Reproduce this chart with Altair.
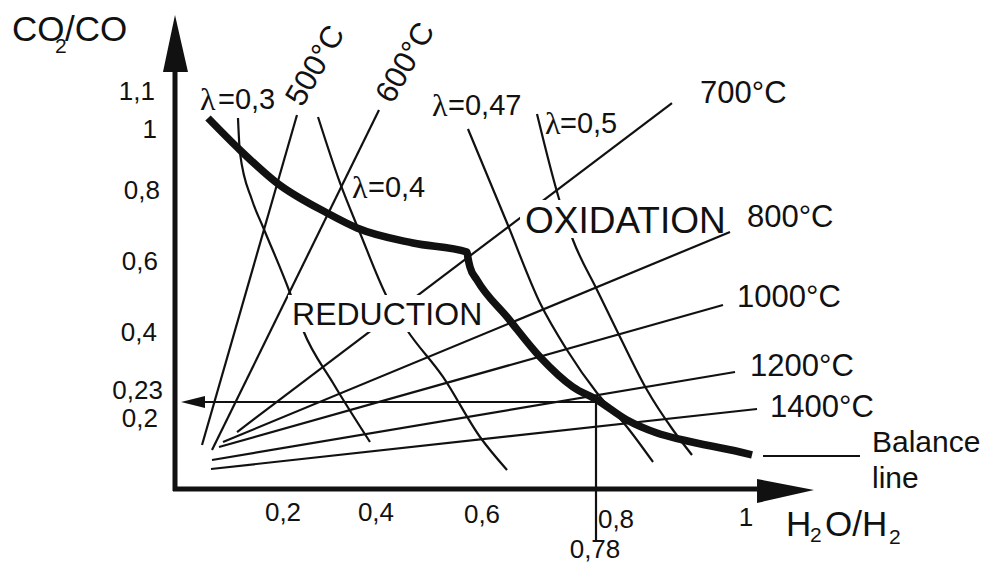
import altair as alt
import pandas as pd

FONT = "Liberation Sans"
SERIF = "Liberation Serif"
INK = "#111111"

# ---------------- layout (page geometry of the schematic) ----------------
W, H = 973, 554
PAGE = 8
ORIGIN_PX = (175, 488)      # where the two axes meet on the page
UNIT_PX = (570, 358)        # page pixels per unit of H2O/H2 and CO2/CO
xdom = [(PAGE - ORIGIN_PX[0]) / UNIT_PX[0], (PAGE + W - ORIGIN_PX[0]) / UNIT_PX[0]]
ydom = [(ORIGIN_PX[1] - PAGE - H) / UNIT_PX[1], (ORIGIN_PX[1] - PAGE) / UNIT_PX[1]]

# ---------------- data (diagram units) ----------------
# isotherms: straight lines (start / end)
temps = ["500°C", "600°C", "700°C", "800°C", "1000°C", "1200°C", "1400°C"]
temp_x0 = [0.0474, 0.0649, 0.1088, 0.0842, 0.0772, 0.0649, 0.0632]
temp_y0 = [0.1201, 0.1061, 0.1564, 0.1285, 0.1145, 0.0782, 0.0531]
temp_x1 = [0.2140, 0.3579, 0.8719, 0.9737, 0.9614, 0.9825, 1.0211]
temp_y1 = [1.0419, 1.0559, 1.0754, 0.7151, 0.5112, 0.3240, 0.2207]

# lambda curves
lam_names = ["0,3", "0,4", "0,47", "0,5"]
lam03_x = [0.1105, 0.1140, 0.1351, 0.1544, 0.2018, 0.2246, 0.2772, 0.3421]
lam03_y = [1.0335, 0.9358, 0.8045, 0.7291, 0.5447, 0.4413, 0.2933, 0.1285]
lam04_x = [0.2509, 0.2895, 0.3246, 0.3719, 0.4070, 0.4702, 0.5351, 0.5825]
lam04_y = [1.0363, 0.8520, 0.7123, 0.5335, 0.4413, 0.3101, 0.1425, 0.0503]
lam047_x = [0.5140, 0.5825, 0.6404, 0.6877, 0.7404, 0.7930, 0.8386]
lam047_y = [1.0028, 0.7402, 0.5168, 0.3855, 0.2654, 0.1704, 0.0726]
lam05_x = [0.6351, 0.6754, 0.6982, 0.7404, 0.7807, 0.8281, 0.8737, 0.9070]
lam05_y = [1.0447, 0.7989, 0.6927, 0.5531, 0.4218, 0.2737, 0.1620, 0.0922]

# balance line
bal_x = [0.0579, 0.1140, 0.1789, 0.2667, 0.3193, 0.4175, 0.5123, 0.5140, 0.5175,
         0.5298, 0.5825, 0.6404, 0.6982, 0.7404, 0.7930, 0.8456, 0.8912, 0.9912, 1.0123]
bal_y = [1.0335, 0.9441, 0.8520, 0.7682, 0.7263, 0.6844, 0.6592, 0.6425, 0.6173,
         0.5810, 0.4777, 0.3659, 0.2821, 0.2458, 0.1899, 0.1536, 0.1341, 0.1006, 0.0922]

# reading guide (H2O/H2 = 0.78 -> CO2/CO = 0.23)
guide_x = 0.7386
guide_y = 0.2402
guide_bottom = -0.1508

# tick labels
ytick_text = ["1,1", "1", "0,8", "0,6", "0,4", "0,23", "0,2"]
ytick_x = [-0.0351, -0.0316, -0.0263, -0.0298, -0.0316, -0.0211, -0.0298]
ytick_y = [1.1061, 1.0000, 0.8296, 0.6313, 0.4330, 0.2709, 0.1927]
xtick_text = ["0,2", "0,4", "0,6", "0,8", "1", "0,78"]
xtick_x = [0.1895, 0.3526, 0.5386, 0.7737, 1.0018, 0.7368]
xtick_y = [-0.0698, -0.0698, -0.0754, -0.0894, -0.0838, -0.1732]

# isotherm labels
tlab_text = ["700°C", "800°C", "1000°C", "1200°C", "1400°C"]
tlab_x = [0.9211, 1.0035, 0.9860, 1.0088, 1.0439]
tlab_y = [1.1006, 0.7542, 0.5307, 0.3380, 0.2235]
rot_text = ["500°C", "600°C"]
rot_x = [0.2474, 0.4053]
rot_y = [1.1788, 1.1872]

# lambda labels
lam_text = ["=0,3", "=0,4", "=0,47", "=0,5"]
lam_sym_x = [0.0439, 0.3105, 0.4509, 0.6491]
lam_txt_x = [0.0754, 0.3386, 0.4790, 0.6754]
lam_lab_y = [1.0838, 0.8380, 1.0670, 1.0168]

# region labels and their white backings
region_text = ["REDUCTION", "OXIDATION"]
region_x = [0.2053, 0.6140]
region_y = [0.4832, 0.7430]
box_x = [0.1982, 0.6053]
box_x2 = [0.5456, 0.9684]
box_y = [0.4358, 0.6983]
box_y2 = [0.5391, 0.8045]

# ---------------- frames ----------------
def path_df(names, xs_list, ys_list):
    rows = []
    for n, xs, ys in zip(names, xs_list, ys_list):
        for i, (a, b) in enumerate(zip(xs, ys)):
            rows.append({"id": n, "i": i, "x": a, "y": b})
    return pd.DataFrame(rows)

temp_df = path_df(temps, [[a, b] for a, b in zip(temp_x0, temp_x1)],
                  [[a, b] for a, b in zip(temp_y0, temp_y1)])
lam_df = path_df(lam_names, [lam03_x, lam04_x, lam047_x, lam05_x],
                 [lam03_y, lam04_y, lam047_y, lam05_y])
bal_df = path_df(["balance"], [bal_x], [bal_y])
guide_df = path_df(["h", "v"], [[0.03, guide_x], [guide_x, guide_x]],
                   [[guide_y, guide_y], [guide_y, guide_bottom]])
legend_df = path_df(["legend"], [[1.0316, 1.2018]], [[0.0894, 0.0894]])
axes_df = path_df(["xaxis", "yaxis"], [[-0.0035, 1.0211], [0.0, 0.0]],
                  [[-0.0028, -0.0028], [-0.0084, 1.1620]])

X = alt.X("x:Q", scale=alt.Scale(domain=xdom, nice=False, zero=False), axis=None)
Y = alt.Y("y:Q", scale=alt.Scale(domain=ydom, nice=False, zero=False), axis=None)

def lines(df, width, interp="linear"):
    return alt.Chart(df).mark_line(color=INK, strokeWidth=width, interpolate=interp).encode(
        X, Y, detail="id:N", order="i:Q")

def texts(df, **kw):
    params = dict(font=FONT, color=INK, baseline="middle")
    params.update(kw)
    return alt.Chart(df).mark_text(**params).encode(X, Y, text="t:N")

lam_layer = lines(lam_df, 2.2, "monotone")
temp_layer = lines(temp_df[temp_df.id != "800°C"], 2.2)
temp800_layer = lines(temp_df[temp_df.id == "800°C"], 2.2)
guide_layer = lines(guide_df, 2.2)
legend_layer = lines(legend_df, 2.2)
axes_layer = lines(axes_df, 5)
bal_layer = lines(bal_df, 7.5, "monotone")

boxes = alt.Chart(pd.DataFrame({"x": box_x, "x2": box_x2, "y": box_y, "y2": box_y2})).mark_rect(
    color="white").encode(X, alt.X2("x2:Q"), Y, alt.Y2("y2:Q"))

yhead = alt.Chart(pd.DataFrame({"x": [-0.0211, 0.0, 0.0228], "y": [1.1620] * 3,
                                "y2": [1.1620, 1.3212, 1.1620]})).mark_area(
    color=INK, orient="vertical").encode(X, Y, alt.Y2("y2:Q"))
xhead = alt.Chart(pd.DataFrame({"y": [0.0251, -0.0056, -0.0419], "x": [1.0211] * 3,
                                "x2": [1.0211, 1.1211, 1.0211]})).mark_area(
    color=INK, orient="horizontal").encode(X, alt.X2("x2:Q"), Y)
lhead = alt.Chart(pd.DataFrame({"y": [0.2570, 0.2402, 0.2235], "x": [0.0526] * 3,
                                "x2": [0.0526, 0.0105, 0.0526]})).mark_area(
    color=INK, orient="horizontal").encode(X, alt.X2("x2:Q"), Y)

ytick_layer = texts(pd.DataFrame({"t": ytick_text, "x": ytick_x, "y": ytick_y}),
                    align="right", fontSize=26)
xtick_layer = texts(pd.DataFrame({"t": xtick_text, "x": xtick_x, "y": xtick_y}),
                    align="center", fontSize=26)
tlab_layer = texts(pd.DataFrame({"t": tlab_text, "x": tlab_x, "y": tlab_y}),
                   align="left", fontSize=31)
rot_layer = texts(pd.DataFrame({"t": rot_text, "x": rot_x, "y": rot_y}),
                  align="center", fontSize=31, angle=300)
lam_sym_layer = texts(pd.DataFrame({"t": ["λ"] * 4, "x": lam_sym_x, "y": lam_lab_y}),
                      align="left", fontSize=32, font=SERIF)
lam_txt_layer = texts(pd.DataFrame({"t": lam_text, "x": lam_txt_x, "y": lam_lab_y}),
                      align="left", fontSize=29)
red_layer = texts(pd.DataFrame({"t": region_text[:1], "x": region_x[:1], "y": region_y[:1]}),
                  align="left", fontSize=32)
oxi_layer = texts(pd.DataFrame({"t": region_text[1:], "x": region_x[1:], "y": region_y[1:]}),
                  align="left", fontSize=37)
legend_text = texts(pd.DataFrame({"t": ["Balance", "line"], "x": [1.2228, 1.2228],
                                  "y": [0.1257, 0.0251]}), align="left", fontSize=30)

# axis titles (with subscripts)
title_big = texts(pd.DataFrame({"t": ["CO", "/CO", "H", "O/H"],
                                "x": [-0.2860, -0.1930, 1.0719, 1.1404],
                                "y": [1.2793, 1.2793, -0.1034, -0.1034]}),
                  align="left", fontSize=35)
title_sub = texts(pd.DataFrame({"t": ["2", "2", "2"],
                                "x": [-0.2105, 1.1140, 1.2526],
                                "y": [1.2318, -0.1341, -0.1397]}),
                  align="left", fontSize=21)

chart = alt.layer(
    lam_layer, temp_layer, guide_layer, boxes, temp800_layer, bal_layer, legend_layer,
    axes_layer, yhead, xhead, lhead,
    ytick_layer, xtick_layer, tlab_layer, rot_layer, lam_sym_layer, lam_txt_layer,
    red_layer, oxi_layer, legend_text, title_big, title_sub,
).properties(
    width=W, height=H, padding=0,
    autosize=alt.AutoSizeParams(type="none"),
    background="white",
).configure_view(strokeWidth=0)

chart.save("out.html", embed_options={"renderer": "svg", "actions": False})
